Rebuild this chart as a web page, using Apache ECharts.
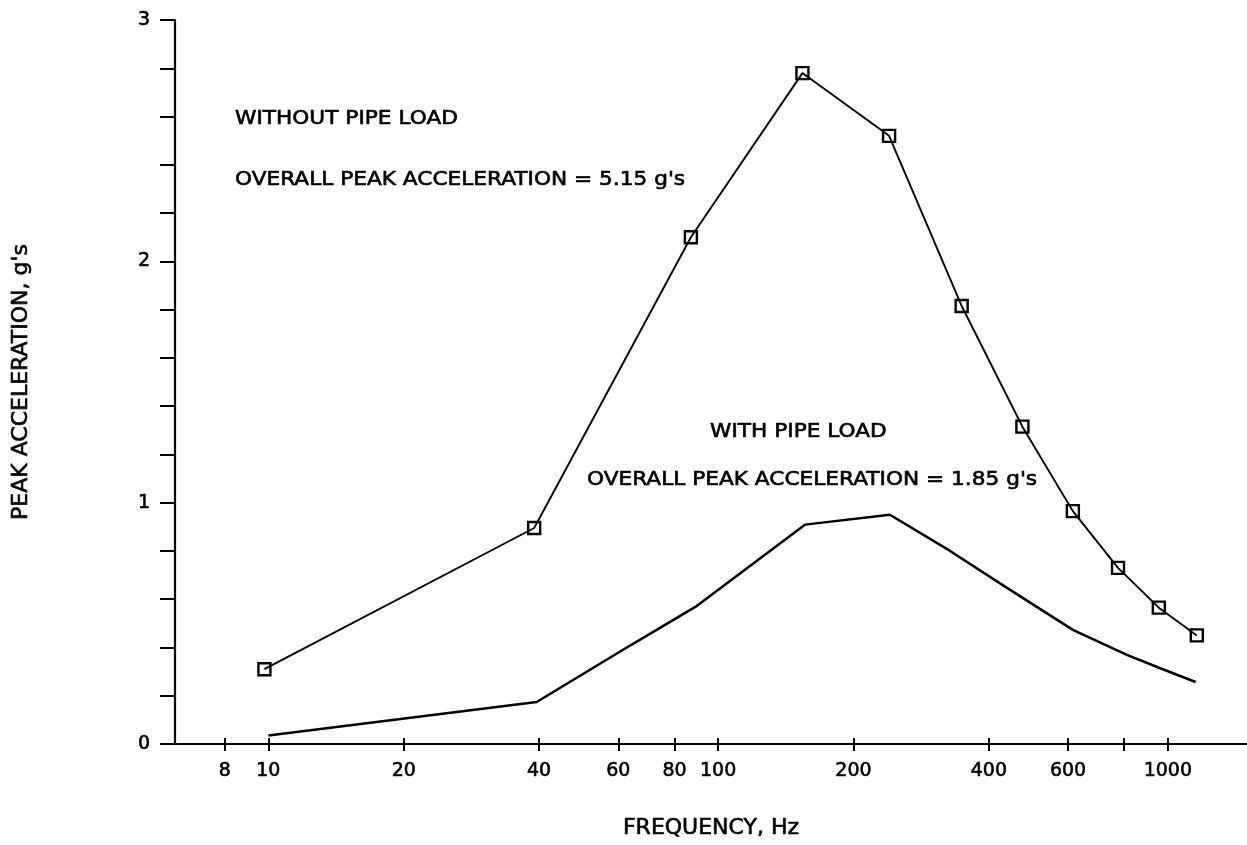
<!DOCTYPE html>
<html>
<head>
<meta charset="utf-8">
<script src="https://cdn.jsdelivr.net/npm/echarts@6/dist/echarts.min.js"></script>
<style>
html,body{margin:0;padding:0;background:#fff;}
#chart{width:1247px;height:845px;}
</style>
</head>
<body>
<div id="chart"></div>
<script>
// ---- data ----
const xTickValues = [8, 10, 20, 40, 60, 80, 100, 200, 400, 600, 800, 1000];
const xTickLabels = [8, 10, 20, 40, 60, 80, 100, 200, 400, 600, 1000];
const yTickLabels = [0, 1, 2, 3];

const freqWithout  = [9.8, 39, 87, 154, 240, 348, 475, 615, 775, 955, 1160];
const accelWithout = [0.31, 0.895, 2.10, 2.78, 2.52, 1.815, 1.315, 0.965, 0.73, 0.565, 0.45];

const freqWith  = [10, 39.5, 64, 89, 156, 241, 328, 439, 615, 811, 959, 1153];
const accelWith = [0.035, 0.174, 0.41, 0.568, 0.909, 0.95, 0.80, 0.647, 0.473, 0.369, 0.315, 0.257];

const annotations = [
  {text: 'WITHOUT PIPE LOAD', x: 235, y: 119},
  {text: "OVERALL PEAK ACCELERATION = 5.15 g's", x: 235, y: 180},
  {text: 'WITH PIPE LOAD', x: 710, y: 432},
  {text: "OVERALL PEAK ACCELERATION = 1.85 g's", x: 587, y: 480}
];

// ---- chart ----
const FONT = 'DejaVu Sans';
const X_MIN = 6.2, X_MAX = 1500;
const LX_MIN = Math.log10(X_MIN), LX_MAX = Math.log10(X_MAX);
const gridRect = {left: 175, right: 0, top: 20, bottom: 101};
const bold = {textBorderColor: '#000', textBorderWidth: 0.6};

const chart = echarts.init(document.getElementById('chart'), null, {renderer: 'canvas'});

const option = {
  animation: false,
  backgroundColor: '#ffffff',
  grid: [
    Object.assign({containLabel: false}, gridRect),
    Object.assign({containLabel: false}, gridRect),
    Object.assign({containLabel: false}, gridRect)
  ],
  xAxis: [
    { // data axis (log)
      gridIndex: 0, type: 'log', logBase: 10, min: X_MIN, max: X_MAX, position: 'bottom',
      axisLine: {show: true, onZero: false, lineStyle: {color: '#000', width: 2.2}},
      axisTick: {show: false}, axisLabel: {show: false}, splitLine: {show: false},
      name: 'FREQUENCY, Hz', nameLocation: 'middle', nameGap: 73,
      nameTextStyle: Object.assign({fontFamily: FONT, fontSize: 22, color: '#000'}, bold)
    },
    { // top border
      gridIndex: 0, type: 'value', min: 0, max: 1, position: 'top',
      axisLine: {show: true, lineStyle: {color: '#000', width: 1.8}},
      axisTick: {show: false}, axisLabel: {show: false}, splitLine: {show: false}
    },
    { // tick labels + outward ticks
      gridIndex: 1, type: 'value', min: LX_MIN, max: LX_MAX, position: 'bottom',
      axisLine: {show: false},
      axisTick: {show: true, inside: false, length: 7, customValues: xTickValues.map(Math.log10),
                 lineStyle: {color: '#000', width: 2}},
      axisLabel: Object.assign({show: true, margin: 18, customValues: xTickLabels.map(Math.log10),
                  formatter: v => String(Math.round(Math.pow(10, v))),
                  fontFamily: FONT, fontSize: 19, color: '#000'}, bold),
      splitLine: {show: false}
    },
    { // inward ticks
      gridIndex: 2, type: 'value', min: LX_MIN, max: LX_MAX, position: 'bottom',
      axisLine: {show: false},
      axisTick: {show: true, inside: true, length: 6, customValues: xTickValues.map(Math.log10),
                 lineStyle: {color: '#000', width: 2}},
      axisLabel: {show: false}, splitLine: {show: false}
    }
  ],
  yAxis: [
    {
      gridIndex: 0, type: 'value', min: 0, max: 3, interval: 0.2, position: 'left',
      axisLine: {show: true, onZero: false, lineStyle: {color: '#000', width: 2.2}},
      axisTick: {show: true, inside: false, length: 15, lineStyle: {color: '#000', width: 2}},
      axisLabel: Object.assign({show: true, margin: 25, customValues: yTickLabels,
                  fontFamily: FONT, fontSize: 19, color: '#000'}, bold),
      splitLine: {show: false},
      name: "PEAK ACCELERATION, g's", nameLocation: 'middle', nameGap: 143, nameRotate: 90,
      nameTextStyle: Object.assign({fontFamily: FONT, fontSize: 22, color: '#000'}, bold)
    },
    {gridIndex: 1, type: 'value', min: 0, max: 3, show: false},
    {gridIndex: 2, type: 'value', min: 0, max: 3, show: false}
  ],
  series: [
    {
      name: 'Without pipe load', type: 'line', xAxisIndex: 0, yAxisIndex: 0,
      data: freqWithout.map((f, i) => [f, accelWithout[i]]),
      symbol: 'rect', symbolSize: 12, showSymbol: true,
      lineStyle: {color: '#000', width: 1.9},
      itemStyle: {color: 'rgba(0,0,0,0)', borderColor: '#000', borderWidth: 2.4},
      emphasis: {disabled: true}, z: 3
    },
    {
      name: 'With pipe load', type: 'line', xAxisIndex: 0, yAxisIndex: 0,
      data: freqWith.map((f, i) => [f, accelWith[i]]),
      symbol: 'none', showSymbol: false,
      lineStyle: {color: '#000', width: 2.5},
      emphasis: {disabled: true}, z: 2
    }
  ],
  graphic: annotations.map(a => ({
    type: 'text', x: a.x, y: a.y, scaleX: 1.14, silent: true,
    style: {text: a.text, fontFamily: FONT, fontSize: 19, fill: '#000',
            stroke: '#000', lineWidth: 0.6,
            align: 'left', verticalAlign: 'middle'}
  }))
};

chart.setOption(option);
</script>
</body>
</html>
